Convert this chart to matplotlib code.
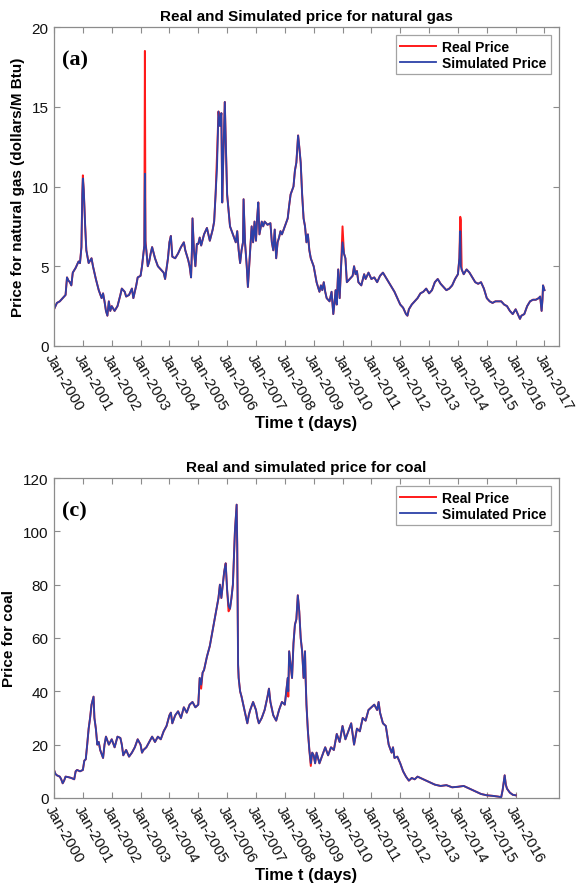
import matplotlib
matplotlib.use("Agg")
import matplotlib.pyplot as plt

# natural gas, decimal years / $ per M Btu
gas_t = [2000.0, 2000.1, 2000.2, 2000.3, 2000.4, 2000.45, 2000.5, 2000.55, 2000.6, 2000.65,
         2000.75, 2000.85, 2000.9, 2000.95, 2000.98, 2001.0, 2001.03, 2001.08, 2001.12, 2001.2,
         2001.3, 2001.35, 2001.45, 2001.55, 2001.65, 2001.7, 2001.75, 2001.8, 2001.85, 2001.9,
         2001.95, 2002.0, 2002.1, 2002.2, 2002.3, 2002.35, 2002.45, 2002.5, 2002.6, 2002.7,
         2002.75, 2002.85, 2002.9, 2003.0, 2003.05, 2003.1, 2003.13, 2003.15, 2003.17, 2003.2,
         2003.25, 2003.3, 2003.35, 2003.4, 2003.5, 2003.6, 2003.7, 2003.8, 2003.85, 2003.95,
         2004.0, 2004.05, 2004.1, 2004.2, 2004.3, 2004.4, 2004.5, 2004.55, 2004.65, 2004.7,
         2004.75, 2004.78, 2004.8, 2004.85, 2004.9, 2004.95, 2005.0, 2005.05, 2005.1, 2005.2,
         2005.3, 2005.4, 2005.5, 2005.55, 2005.6, 2005.65, 2005.7, 2005.75, 2005.8, 2005.83,
         2005.87, 2005.92, 2005.95, 2006.0, 2006.05, 2006.1, 2006.2, 2006.3, 2006.35, 2006.4,
         2006.45, 2006.5, 2006.55, 2006.57, 2006.62, 2006.68, 2006.72, 2006.78, 2006.85, 2006.9,
         2006.95, 2007.0, 2007.04, 2007.08, 2007.12, 2007.2, 2007.25, 2007.3, 2007.4, 2007.5,
         2007.55, 2007.6, 2007.65, 2007.7, 2007.75, 2007.8, 2007.85, 2007.9, 2008.0, 2008.1,
         2008.15, 2008.2, 2008.3, 2008.35, 2008.4, 2008.46, 2008.5, 2008.55, 2008.6, 2008.65,
         2008.7, 2008.75, 2008.8, 2008.85, 2008.9, 2009.0, 2009.05, 2009.1, 2009.15, 2009.2,
         2009.25, 2009.3, 2009.35, 2009.4, 2009.45, 2009.55, 2009.62, 2009.68, 2009.72, 2009.76,
         2009.8, 2009.85, 2009.9, 2009.95, 2010.0, 2010.05, 2010.1, 2010.15, 2010.25, 2010.35,
         2010.4, 2010.45, 2010.5, 2010.55, 2010.65, 2010.75, 2010.8, 2010.9, 2011.0, 2011.1,
         2011.2, 2011.3, 2011.4, 2011.5, 2011.6, 2011.7, 2011.8, 2011.9, 2012.0, 2012.1,
         2012.2, 2012.25, 2012.3, 2012.4, 2012.5, 2012.6, 2012.7, 2012.8, 2012.9, 2013.0,
         2013.1, 2013.2, 2013.3, 2013.4, 2013.5, 2013.6, 2013.7, 2013.8, 2013.9, 2014.0,
         2014.05, 2014.08, 2014.1, 2014.13, 2014.2, 2014.3, 2014.4, 2014.5, 2014.6, 2014.7,
         2014.8, 2014.9, 2015.0, 2015.1, 2015.2, 2015.3, 2015.4, 2015.5, 2015.6, 2015.7,
         2015.8, 2015.9, 2016.0, 2016.1, 2016.15, 2016.2, 2016.3, 2016.4, 2016.5, 2016.6,
         2016.7, 2016.8, 2016.85, 2016.9, 2016.93, 2016.95, 2017.0]
gas_real = [2.3, 2.7, 2.8, 3.0, 3.2, 4.3, 4.1, 4.0, 3.8, 4.6,
            4.9, 5.3, 5.2, 6.2, 9.5, 10.7, 9.8, 7.5, 6.0, 5.2,
            5.5, 5.0, 4.2, 3.5, 3.0, 3.3, 2.8, 2.2, 1.9, 2.8,
            2.2, 2.5, 2.2, 2.5, 3.2, 3.6, 3.4, 3.1, 3.2, 3.6,
            3.0, 3.8, 4.3, 4.4, 5.0, 5.8, 6.3, 18.5, 6.6, 6.0,
            5.0, 5.3, 5.8, 6.2, 5.5, 5.0, 4.8, 4.6, 4.2, 5.5,
            6.5, 6.9, 5.6, 5.5, 5.8, 6.2, 6.5, 6.0, 5.4, 5.0,
            4.3, 6.0, 8.0, 6.0, 5.0, 6.4, 6.4, 6.8, 6.3, 7.0,
            7.4, 6.6, 7.3, 7.8, 9.5, 12.0, 14.7, 13.8, 14.6, 9.0,
            12.0, 15.3, 13.0, 9.5, 8.5, 7.5, 7.0, 6.5, 7.2, 6.0,
            5.2, 6.0, 6.5, 9.2, 6.5, 5.0, 3.7, 5.5, 7.5, 6.5,
            7.8, 6.6, 8.0, 9.0, 7.0, 7.8, 7.5, 7.8, 7.6, 7.7,
            6.5, 6.0, 7.3, 5.5, 6.5, 6.8, 7.2, 7.0, 7.5, 8.0,
            8.8, 9.5, 10.0, 11.0, 11.5, 13.2, 12.5, 11.5, 9.5, 8.0,
            7.5, 6.5, 7.0, 6.0, 5.5, 5.0, 4.5, 4.0, 3.7, 3.4,
            3.8, 3.5, 4.0, 3.4, 3.0, 2.8, 3.4, 2.0, 2.7, 3.5,
            2.6, 4.8, 3.0, 5.0, 7.5, 5.8, 5.5, 4.0, 4.2, 4.4,
            5.0, 4.5, 4.7, 4.0, 3.8, 4.5, 4.2, 4.6, 4.2, 4.3,
            4.0, 4.4, 4.6, 4.3, 4.0, 3.7, 3.4, 3.0, 2.6, 2.4,
            2.0, 1.9, 2.3, 2.6, 2.8, 3.0, 3.3, 3.4, 3.6, 3.3,
            3.5, 4.0, 4.2, 3.9, 3.7, 3.5, 3.6, 3.8, 4.2, 4.5,
            5.5, 8.1, 7.9, 4.8, 4.5, 4.8, 4.6, 4.3, 4.0, 3.9,
            4.0, 3.6, 3.0, 2.8, 2.7, 2.8, 2.8, 2.8, 2.6, 2.5,
            2.2, 2.0, 2.3, 1.9, 1.7, 1.9, 2.0, 2.5, 2.8, 2.9,
            2.9, 3.0, 3.1, 2.2, 2.9, 3.8, 3.5]
# points where the simulated gas price departs from the real one
gas_sim_fix = {2003.15: 10.8, 2003.17: 6.4, 2010.0: 6.5, 2014.08: 7.2, 2014.1: 5.0,
               2005.65: 11.2, 2001.0: 10.5}

# coal
coal_t = [2000.0, 2000.05, 2000.1, 2000.2, 2000.25, 2000.3, 2000.35, 2000.4, 2000.5, 2000.6,
          2000.7, 2000.75, 2000.8, 2000.9, 2001.0, 2001.05, 2001.1, 2001.15, 2001.2, 2001.25,
          2001.3, 2001.37, 2001.4, 2001.45, 2001.5, 2001.55, 2001.6, 2001.7, 2001.75, 2001.8,
          2001.9, 2002.0, 2002.1, 2002.2, 2002.3, 2002.35, 2002.4, 2002.5, 2002.6, 2002.7,
          2002.8, 2002.9, 2003.0, 2003.05, 2003.1, 2003.2, 2003.3, 2003.4, 2003.5, 2003.6,
          2003.7, 2003.8, 2003.9, 2004.0, 2004.05, 2004.1, 2004.2, 2004.3, 2004.4, 2004.5,
          2004.6, 2004.7, 2004.8, 2004.9, 2005.0, 2005.05, 2005.1, 2005.15, 2005.2, 2005.3,
          2005.4, 2005.5, 2005.6, 2005.7, 2005.75, 2005.8, 2005.9, 2005.95, 2006.0, 2006.05,
          2006.1, 2006.15, 2006.2, 2006.27, 2006.33, 2006.35, 2006.38, 2006.4, 2006.45, 2006.5,
          2006.6, 2006.7, 2006.75, 2006.8, 2006.9, 2007.0, 2007.05, 2007.1, 2007.2, 2007.3,
          2007.4, 2007.45, 2007.5, 2007.6, 2007.7, 2007.8, 2007.9, 2008.0, 2008.05, 2008.1,
          2008.12, 2008.15, 2008.2, 2008.25, 2008.3, 2008.35, 2008.4, 2008.45, 2008.5, 2008.55,
          2008.6, 2008.65, 2008.7, 2008.72, 2008.75, 2008.8, 2008.85, 2008.9, 2008.95, 2009.0,
          2009.05, 2009.1, 2009.2, 2009.3, 2009.4, 2009.5, 2009.6, 2009.7, 2009.8, 2009.9,
          2010.0, 2010.1, 2010.2, 2010.3, 2010.4, 2010.5, 2010.6, 2010.7, 2010.8, 2010.9,
          2011.0, 2011.1, 2011.2, 2011.25, 2011.3, 2011.4, 2011.5, 2011.6, 2011.7, 2011.75,
          2011.8, 2011.9, 2012.0, 2012.1, 2012.2, 2012.3, 2012.4, 2012.5, 2012.6, 2012.7,
          2012.8, 2013.0, 2013.2, 2013.4, 2013.6, 2013.8, 2014.0, 2014.2, 2014.4, 2014.6,
          2014.8, 2015.0, 2015.2, 2015.4, 2015.5, 2015.55, 2015.62, 2015.66, 2015.7, 2015.8,
          2015.9, 2016.0]
coal_real = [10.5, 9.0, 8.5, 8.0, 7.0, 5.5, 6.5, 8.0, 7.8, 7.5,
             7.0, 10.0, 10.5, 10.0, 10.5, 14.0, 14.5, 20.0, 26.0, 30.0,
             35.0, 38.0, 30.0, 26.0, 20.0, 21.0, 18.0, 15.0, 20.0, 23.0,
             20.0, 22.0, 19.0, 23.0, 22.5, 20.0, 16.0, 18.0, 15.5, 17.0,
             19.0, 22.0, 20.0, 17.0, 18.0, 19.0, 21.0, 23.0, 21.0, 23.0,
             22.0, 25.0, 27.0, 31.0, 32.0, 28.0, 31.0, 32.5, 30.0, 34.0,
             32.0, 35.0, 36.0, 34.0, 35.0, 45.0, 41.0, 47.0, 48.0, 53.0,
             57.0, 63.0, 69.0, 75.0, 80.0, 75.0, 85.0, 88.0, 78.0, 70.0,
             71.0, 75.0, 80.0, 100.0, 110.0, 95.0, 50.0, 45.0, 40.0, 38.0,
             33.0, 28.0, 31.0, 33.0, 36.0, 33.0, 30.0, 28.0, 30.0, 33.0,
             38.0, 41.0, 36.0, 31.0, 29.0, 33.0, 36.0, 35.0, 40.0, 45.0,
             38.0, 55.0, 50.0, 45.0, 58.0, 65.0, 67.0, 76.0, 70.0, 60.0,
             55.0, 45.0, 55.0, 45.0, 35.0, 25.0, 18.0, 12.0, 17.0, 16.0,
             13.0, 17.0, 13.0, 16.0, 19.0, 16.0, 19.0, 18.0, 24.0, 21.0,
             27.0, 22.0, 25.0, 28.0, 20.0, 26.0, 25.0, 30.0, 29.0, 33.0,
             34.0, 35.0, 33.0, 36.0, 32.0, 28.0, 27.0, 20.0, 17.0, 19.0,
             15.0, 15.5, 13.0, 10.0, 8.0, 6.5, 7.5, 7.0, 8.0, 7.5,
             7.0, 6.0, 5.0, 4.5, 4.8, 4.0, 4.2, 4.5, 3.5, 2.5,
             1.5, 1.0, 0.8, 0.5, 0.3, 3.0, 8.5, 5.0, 3.5, 2.0,
             1.2, 1.0]
coal_sim_fix = {2005.1: 42.5, 2006.05: 72.0, 2008.12: 40.0, 2008.9: 13.0}

gas_sim = [gas_sim_fix.get(t, v) for t, v in zip(gas_t, gas_real)]
coal_sim = [coal_sim_fix.get(t, v) for t, v in zip(coal_t, coal_real)]

real_col = "#ff1a1a"
sim_col = "#2c41a8"
edge = "#8c8c8c"


def style_axes(ax, years, yticks, ylim):
    ax.set_xlim(2000, 2017.5)
    ax.set_ylim(*ylim)
    ax.set_yticks(yticks)
    ax.set_xticks(years)
    ax.set_xticklabels(["Jan-%d" % y for y in years], rotation=-60,
                       ha="left", va="top", rotation_mode="anchor")
    ax.tick_params(direction="in", top=True, right=True, length=4,
                   color=edge, labelcolor="#111111", labelsize=11, pad=4)
    ax.tick_params(axis="x", pad=3)
    for s in ax.spines.values():
        s.set_color(edge)
        s.set_linewidth(0.9)
    ax.set_xlabel("Time t (days)", fontsize=12, fontweight="bold", labelpad=2)
    leg = ax.legend(loc="upper right", fontsize=10, frameon=True, fancybox=False,
                    edgecolor=edge, handlelength=2.6, borderpad=0.3,
                    labelspacing=0.2, handletextpad=0.4, borderaxespad=0.6)
    leg.get_frame().set_linewidth(0.9)
    for txt in leg.get_texts():
        txt.set_fontweight("bold")


plt.rcParams["font.family"] = ["Liberation Sans", "DejaVu Sans"]
fig = plt.figure(figsize=(5.79, 8.95), dpi=100)

# natural gas panel
ax1 = fig.add_axes([0.0933, 0.6123, 0.872, 0.3564])
ax1.plot(gas_t, gas_real, color=real_col, lw=1.4, label="Real Price")
ax1.plot(gas_t, gas_sim, color=sim_col, lw=1.3, label="Simulated Price")
style_axes(ax1, list(range(2000, 2018)), [0, 5, 10, 15, 20], (0, 20))
ax1.set_ylabel("Price for natural gas (dollars/M Btu)", fontsize=11,
               fontweight="bold", labelpad=5)
ax1.set_title("Real and Simulated price for natural gas", fontsize=11,
              fontweight="bold", pad=5)
ax1.text(0.016, 0.93, "(a)", transform=ax1.transAxes, fontsize=16,
         fontweight="bold", family="Liberation Serif", va="top")

# coal panel
ax2 = fig.add_axes([0.0933, 0.1073, 0.872, 0.3575])
ax2.plot(coal_t, coal_real, color=real_col, lw=1.4, label="Real Price")
ax2.plot(coal_t, coal_sim, color=sim_col, lw=1.3, label="Simulated Price")
style_axes(ax2, list(range(2000, 2017)), [0, 20, 40, 60, 80, 100, 120], (0, 120))
ax2.set_ylabel("Price for coal", fontsize=11, fontweight="bold", labelpad=5)
ax2.set_title("Real and simulated price for coal", fontsize=11,
              fontweight="bold", pad=5)
ax2.text(0.016, 0.93, "(c)", transform=ax2.transAxes, fontsize=16,
         fontweight="bold", family="Liberation Serif", va="top")

fig.savefig("out.png", dpi=100)
